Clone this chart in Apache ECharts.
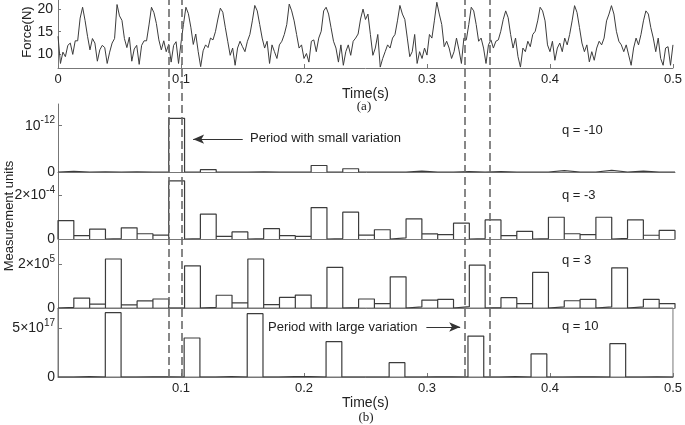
<!DOCTYPE html>
<html>
<head>
<meta charset="utf-8">
<script src="https://cdn.jsdelivr.net/npm/echarts@6/dist/echarts.min.js"></script>
<style>
html, body { margin: 0; padding: 0; background: #fff; }
#chart { width: 685px; height: 425px; }
</style>
</head>
<body>
<div id="chart"></div>
<script>
// force signal, one sample every forceStep seconds from t = 0
var forceStep = 0.002;
var force = [
    14, 8, 10.5, 9.5, 12, 12.5, 10, 13, 13, 18,
    20.4, 17.5, 14, 11, 13.5, 12.5, 8.5, 11, 12, 11.5,
    8, 10.5, 12.5, 13.5, 21, 18.5, 17.5, 13.5, 11.5, 13.8,
    8.5, 11.2, 12, 7.8, 12, 13, 13, 16.5, 20.4, 19.2,
    16.8, 13.2, 11, 13, 10.6, 12.2, 8.3, 12, 12.8, 8,
    12.5, 16.6, 20.4, 19, 16, 12.2, 14.5, 10.6, 7.3, 10.8,
    12.1, 11.5, 13.6, 13.2, 15, 17.8, 20.2, 19.3, 16, 12.9,
    9.8, 11.4, 7.6, 11.4, 12.9, 11.7, 10.6, 12.9, 14.4, 17.4,
    20.8, 19.6, 16.6, 13.6, 11.4, 12.9, 8, 12.1, 10.6, 9.1,
    12.1, 12.9, 14.4, 16.6, 21.1, 19.6, 17.4, 14.4, 11.4, 12.1,
    9.1, 10.2, 8.3, 12.9, 13.2, 10.6, 13.6, 15.1, 19.6, 20.4,
    18.9, 15.9, 12.9, 11.4, 8.3, 12.1, 7.6, 10.6, 12.1, 9.8,
    12.9, 13.6, 14.5, 17.8, 20, 17.7, 18.9, 14.4, 9.8, 11.4,
    14.4, 7.2, 9.1, 10.6, 12.1, 11.4, 13.6, 14.4, 17.4, 20.8,
    18.9, 17.7, 13.6, 9.5, 10.6, 14.4, 8, 10.6, 9.1, 11.4,
    9.85, 14.4, 13.6, 17.4, 21.5, 18.9, 16.6, 11.7, 12.9, 11.4,
    9.1, 10.6, 13.6, 11, 8, 13.6, 13.2, 16.6, 20.4, 19.6,
    16.6, 12.9, 13.6, 11.4, 8, 12.1, 13.2, 11.4, 12.9, 13.2,
    15.1, 17.7, 19.6, 18.1, 14.4, 11.4, 13.6, 9.5, 7.2, 11.4,
    10.6, 12.9, 11.7, 14.4, 15.1, 17.4, 20.4, 19.6, 17.4, 12.1,
    10.6, 12.9, 8.7, 11.4, 12.5, 10.6, 13.6, 12.1, 14.4, 17.4,
    20.75, 19.25, 15.9, 12.5, 10.6, 12.1, 8.35, 10.6, 8.7, 11.4,
    12.9, 12.1, 13.6, 17.4, 18.9, 20.75, 18.9, 15.1, 12.9, 12.1,
    10.6, 12.1, 9.85, 7.6, 11.4, 13.6, 12.1, 14.4, 17.4, 19.6,
    18.9, 15.9, 13.6, 10.6, 13.6, 9.1, 7.6, 11.4, 11.7, 7.6, 12.1
];
var forceTicks = [10, 15, 20];

// 39 equal bins over 0 .. 0.5 s
var tEnd = 0.5;
var binCount = 39;
var qMinus10 = [0.015, 0, 0.005, 0, 0.005, 0, 0, 1.16, 0, 0.05, 0, 0, 0.005, 0, 0, 0, 0.14, 0, 0.07, 0,
    0, 0, 0.02, 0, 0, 0.01, 0, 0.01, 0, 0, 0, 0.03, 0, 0, 0.035, 0, 0.02, 0, 0];          // x 1e-12
var qMinus3 = [0.84, 0.15, 0.45, 0.02, 0.51, 0.24, 0.18, 2.65, 0.02, 1.13, 0.12, 0.32, 0.02, 0.47, 0.15, 0.12, 1.43, 0.02, 1.22, 0.18,
    0.42, 0.05, 0.92, 0.23, 0.2, 0.72, 0.02, 0.87, 0.15, 0.35, 0.02, 0.99, 0.24, 0.2, 0.99, 0.03, 0.87, 0.17, 0.39];  // x 1e-4
var qPlus3 = [0.03, 0.45, 0.18, 2.23, 0.14, 0.32, 0.41, 0, 1.92, 0.03, 0.58, 0.23, 2.23, 0.15, 0.48, 0.59, 0, 1.85, 0.02, 0.41,
    0.2, 1.42, 0.05, 0.36, 0.39, 0.06, 1.95, 0.02, 0.47, 0.2, 1.62, 0.05, 0.33, 0.39, 0.05, 1.83, 0.05, 0.39, 0.2];  // x 1e5
var qPlus10 = [0, 0.03, 0, 6.56, 0, 0.02, 0.02, 0, 3.98, 0, 0.05, 0, 6.46, 0, 0.03, 0.05, 0, 3.6, 0, 0,
    0, 1.46, 0, 0.02, 0.02, 0, 4.18, 0, 0.03, 0, 2.35, 0, 0.02, 0.02, 0, 3.4, 0, 0.02, 0];   // x 1e17

var panelMax = [1.47, 3.05, 3.14, 7.04];
var panelTicks = [[0, 1], [0, 2], [0, 2], [0, 5]];
var tickMantissa = ['', '2×', '2×', '5×'];
var tickExponent = ['-12', '-4', '5', '17'];
var qLabels = ['q = -10', 'q = -3', 'q = 3', 'q = 10'];

// dashed markers around the two periods
var periodEdges = [0.087, 0.1032, 0.331, 0.3472];

var FONT = "'Liberation Sans', Arial, sans-serif";
var LINE = '#3c3c3c';
var AXIS = '#777';

function histPath(vals) {
    var w = tEnd / binCount;
    var pts = [];
    for (var k = 0; k < vals.length; k++) {
        pts.push([k * w, 0], [k * w, vals[k]], [(k + 1) * w, vals[k]], [(k + 1) * w, 0]);
    }
    return pts;
}

var myChart = echarts.init(document.getElementById('chart'), null, {renderer: 'canvas'});

var panelTops = [104, 172, 239, 308];
var panelHeights = [68, 67, 69, 69];
var panels = [qMinus10, qMinus3, qPlus3, qPlus10];

var grids = [{left: 58, top: 0, width: 617, height: 68}];
var xAxes = [{
    type: 'value', gridIndex: 0, min: 0, max: tEnd, interval: 0.1,
    name: 'Time(s)', nameLocation: 'middle', nameGap: 16,
    nameTextStyle: {fontFamily: FONT, fontSize: 14, color: '#222'},
    axisLine: {lineStyle: {color: AXIS}},
    axisTick: {inside: true, length: 4, lineStyle: {color: AXIS}},
    axisLabel: {fontFamily: FONT, fontSize: 13, color: '#222', margin: 5},
    splitLine: {show: false}
}];
var yAxes = [{
    type: 'value', gridIndex: 0, min: 7, max: 22,
    axisLine: {show: true, lineStyle: {color: AXIS}},
    axisTick: {inside: true, length: 3, customValues: forceTicks, lineStyle: {color: AXIS}},
    axisLabel: {fontFamily: FONT, fontSize: 14, color: '#222', margin: 5, customValues: forceTicks},
    splitLine: {show: false}
}];
var series = [{
    type: 'line', xAxisIndex: 0, yAxisIndex: 0,
    data: force.map(function (f, i) { return [i * forceStep, f]; }),
    symbol: 'none', lineStyle: {color: LINE, width: 1}, silent: true
}];

panels.forEach(function (vals, p) {
    var gi = p + 1;
    var last = p === 3;
    grids.push({left: 58, top: panelTops[p], width: 617, height: panelHeights[p],
        show: last, borderColor: AXIS, borderWidth: 1});
    xAxes.push({
        type: 'value', gridIndex: gi, min: 0, max: tEnd, interval: 0.1,
        name: last ? 'Time(s)' : '', nameLocation: 'middle', nameGap: 14,
        nameTextStyle: {fontFamily: FONT, fontSize: 14, color: '#222'},
        axisLine: {lineStyle: {color: AXIS}},
        axisTick: {show: last, inside: true, length: 4, lineStyle: {color: AXIS}},
        axisLabel: {show: last, fontFamily: FONT, fontSize: 13, color: '#222', margin: 5,
            formatter: function (v) { return v === 0 ? '' : v; }},
        splitLine: {show: false}
    });
    yAxes.push({
        type: 'value', gridIndex: gi, min: 0, max: panelMax[p],
        axisLine: {show: true, lineStyle: {color: AXIS}},
        axisTick: {inside: true, length: 4, customValues: panelTicks[p], lineStyle: {color: AXIS}},
        axisLabel: {
            margin: 3, color: '#222', customValues: panelTicks[p],
            formatter: function (v) {
                if (v === 0) return '{n|0}';
                return '{n|' + tickMantissa[p] + '10}{s|' + tickExponent[p] + '}';
            },
            rich: {
                n: {fontFamily: FONT, fontSize: 14, color: '#222'},
                s: {fontFamily: FONT, fontSize: 10, color: '#222', padding: [0, 0, 10, 0]}
            }
        },
        splitLine: {show: false}
    });
    var s = {
        type: 'line', xAxisIndex: gi, yAxisIndex: gi,
        data: histPath(vals), symbol: 'none', silent: true,
        lineStyle: {color: LINE, width: 1.2}
    };
    if (p === 0) {
        s.markLine = {
            silent: true, symbol: ['none', 'arrow'], symbolSize: [7, 11],
            label: {show: false}, lineStyle: {color: '#333', width: 1, type: 'solid'},
            data: [[{coord: [0.1497, 0.71]}, {coord: [0.1095, 0.71]}]]
        };
    }
    if (p === 3) {
        s.markLine = {
            silent: true, symbol: ['none', 'arrow'], symbolSize: [7, 11],
            label: {show: false}, lineStyle: {color: '#333', width: 1, type: 'solid'},
            data: [[{coord: [0.2995, 5.1]}, {coord: [0.327, 5.1]}]]
        };
    }
    series.push(s);
});

// overlay grid for the dashed period markers spanning every panel
grids.push({left: 58, top: 0, width: 617, height: 377});
xAxes.push({type: 'value', gridIndex: 5, min: 0, max: tEnd, show: false});
yAxes.push({type: 'value', gridIndex: 5, min: 0, max: 1, show: false});
series.push({
    type: 'line', xAxisIndex: 5, yAxisIndex: 5, data: [], symbol: 'none',
    markLine: {
        silent: true, symbol: ['none', 'none'], label: {show: false},
        lineStyle: {color: '#6a6a6a', width: 1.6, type: [8, 4]},
        data: periodEdges.map(function (t) { return {xAxis: t}; })
    }
});

var textStyle = function (txt, size, family) {
    return {text: txt, fontSize: size, fontFamily: family || FONT, fill: '#222', verticalAlign: 'middle'};
};

var graphics = [
    {type: 'text', x: 27, y: 32, rotation: Math.PI / 2,
        style: Object.assign(textStyle('Force(N)', 13), {align: 'center'})},
    {type: 'text', x: 364, y: 107, style: Object.assign(textStyle('(a)', 13, "'Liberation Serif', serif"), {align: 'center'})},
    {type: 'text', x: 366, y: 418, style: Object.assign(textStyle('(b)', 13, "'Liberation Serif', serif"), {align: 'center'})},
    {type: 'text', x: 9, y: 216, rotation: Math.PI / 2,
        style: Object.assign(textStyle('Measurement units', 13), {align: 'center'})},
    {type: 'text', x: 250, y: 138, style: textStyle('Period with small variation', 13)},
    {type: 'text', x: 268, y: 327, style: textStyle('Period with large variation', 13)}
];
var qY = [130, 195, 260, 326];
qLabels.forEach(function (q, i) {
    graphics.push({type: 'text', x: 562, y: qY[i], style: textStyle(q, 13)});
});

var option = {
    animation: false,
    backgroundColor: '#fff',
    grid: grids,
    xAxis: xAxes,
    yAxis: yAxes,
    series: series,
    graphic: graphics
};
myChart.setOption(option);
</script>
</body>
</html>
